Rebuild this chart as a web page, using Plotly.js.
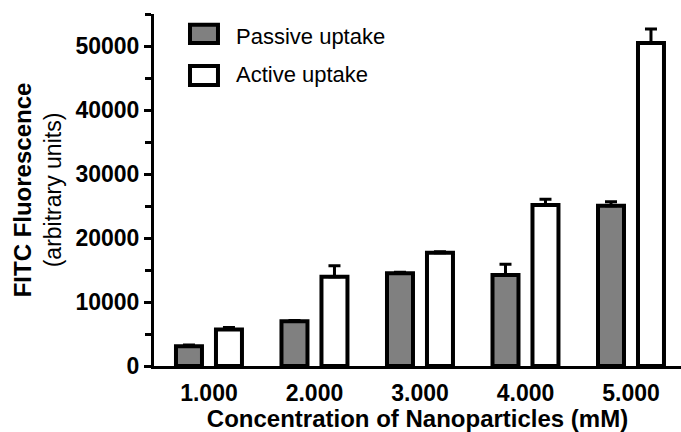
<!DOCTYPE html>
<html>
<head>
<meta charset="utf-8">
<script src="https://cdn.plot.ly/plotly-3.0.1.min.js"></script>
<style>
  html, body { margin: 0; padding: 0; background: #ffffff; }
  #chart { width: 681px; height: 432px; }
</style>
</head>
<body>
<div id="chart"></div>
<script>
// Nanoparticle concentration (mM) categories
const concentrations = ["1.000", "2.000", "3.000", "4.000", "5.000"];

// FITC fluorescence (arbitrary units), mean and upper error (SEM)
const passiveUptake = [3100, 7000, 14500, 14200, 25050];
const passiveError  = [200, 100, 150, 1700, 600];
const activeUptake  = [5700, 13950, 17700, 25150, 50450];
const activeError   = [300, 1700, 150, 900, 2200];

const seriesNames = ["Passive uptake", "Active uptake"];

const zeros = concentrations.map(() => 0);
const font = "Liberation Sans, Arial, Helvetica, sans-serif";

function barTrace(name, y, err, fill) {
  return {
    type: "bar",
    name: name,
    x: concentrations,
    y: y,
    marker: { color: fill, line: { color: "#000000", width: 4 } },
    error_y: {
      type: "data", symmetric: false,
      array: err, arrayminus: zeros,
      color: "#000000", thickness: 3, width: 6
    },
    hoverinfo: "x+y+name"
  };
}

const data = [
  barTrace(seriesNames[0], passiveUptake, passiveError, "#808080"),
  barTrace(seriesNames[1], activeUptake, activeError, "#ffffff")
];

// Legend swatches drawn as paper-anchored boxes next to their labels
const legendRows = [
  { top: 0.9696, bottom: 0.9176, fill: "#808080", label: seriesNames[0], ty: 0.9375 },
  { top: 0.8523, bottom: 0.7983, fill: "#ffffff", label: seriesNames[1], ty: 0.827 }
];
const shapes = legendRows.map(r => ({
  type: "rect", xref: "paper", yref: "paper",
  x0: 0.0683, x1: 0.1214, y0: r.bottom, y1: r.top,
  fillcolor: r.fill, line: { color: "#000000", width: 4 }
}));
const annotations = legendRows.map(r => ({
  xref: "paper", yref: "paper",
  x: 0.152, y: r.ty,
  xanchor: "left", yanchor: "middle",
  text: r.label, showarrow: false,
  font: { family: font, size: 22, color: "#000000" }
}));

const layout = {
  width: 681, height: 432,
  margin: { l: 154, r: 0, t: 14, b: 66 },
  paper_bgcolor: "#ffffff", plot_bgcolor: "#ffffff",
  showlegend: false,
  barmode: "group",
  bargap: 0.242,
  bargroupgap: 0.35,
  font: { family: font, color: "#000000" },
  xaxis: {
    type: "category",
    range: [-0.521, 4.474],
    showline: true, linecolor: "#000000", linewidth: 3,
    ticks: "", showgrid: false, zeroline: false,
    ticklabelstandoff: 4,
    tickfont: { family: font, size: 23, color: "#000000", weight: "bold" },
    title: {
      text: "Concentration of Nanoparticles (mM)",
      font: { family: font, size: 24, color: "#000000", weight: "bold" },
      standoff: 5
    }
  },
  yaxis: {
    range: [0, 55000],
    showline: true, linecolor: "#000000", linewidth: 3,
    ticks: "outside", ticklen: 7, tickwidth: 3, tickcolor: "#000000",
    dtick: 10000, tickformat: "d",
    minor: { dtick: 5000, ticks: "outside", ticklen: 6, tickwidth: 3, tickcolor: "#000000", showgrid: false },
    showgrid: false, zeroline: false,
    tickfont: { family: font, size: 23, color: "#000000", weight: "bold" },
    title: {
      text: "<b style='font-size:24px'>FITC Fluorescence</b><br>(arbitrary units)",
      font: { family: font, size: 23, color: "#000000" },
      standoff: 8
    }
  },
  shapes: shapes,
  annotations: annotations
};

Plotly.newPlot("chart", data, layout, { displayModeBar: false, staticPlot: true });
</script>
</body>
</html>
